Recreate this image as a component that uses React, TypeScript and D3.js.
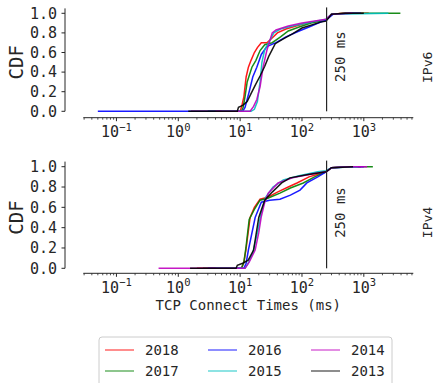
import React from "react";
import * as d3 from "d3";

// legend / series order
const years = ["2018", "2017", "2016", "2015", "2014", "2013"];
const colors = ["#ff0000", "#008000", "#0000ff", "#00bfbf", "#bf00bf", "#000000"];

// IPv6 CDFs: [connect time ms, cdf]
const v6_2018 = [[1.6, 0], [10, 0], [10.6, 0.05], [11.5, 0.15], [12.5, 0.35], [13.6, 0.45], [15, 0.52], [17, 0.6], [19, 0.65], [22, 0.7], [27, 0.7], [32, 0.74], [40, 0.8], [55, 0.84], [80, 0.87], [120, 0.9], [180, 0.92], [245, 0.93], [270, 0.96], [310, 0.99], [450, 1], [1200, 1]];
const v6_2017 = [[3, 0], [10.5, 0], [11.2, 0.04], [12, 0.15], [13, 0.3], [15.5, 0.45], [18, 0.52], [21, 0.62], [25, 0.68], [33, 0.7], [45, 0.76], [60, 0.82], [90, 0.86], [140, 0.9], [245, 0.93], [300, 0.99], [500, 1], [3900, 1]];
const v6_2016 = [[0.05, 0], [11, 0], [12, 0.04], [14, 0.2], [16, 0.35], [18.6, 0.45], [22, 0.58], [27, 0.66], [38, 0.7], [55, 0.76], [90, 0.82], [130, 0.86], [200, 0.91], [245, 0.93], [320, 0.99], [600, 1], [900, 1]];
const v6_2015 = [[5, 0], [15, 0], [17, 0.02], [19, 0.1], [21, 0.3], [22.5, 0.5], [25, 0.63], [29, 0.7], [35, 0.8], [45, 0.84], [70, 0.87], [120, 0.9], [245, 0.94], [300, 0.99], [2500, 1]];
const v6_2014 = [[4, 0], [14.5, 0], [16.5, 0.05], [18.6, 0.12], [21, 0.25], [23.5, 0.45], [27, 0.62], [33, 0.8], [38, 0.83], [60, 0.87], [100, 0.9], [245, 0.94], [300, 0.99], [650, 1]];
const v6_2013 = [[1.45, 0], [9, 0], [9.4, 0.04], [11, 0.06], [13, 0.1], [15, 0.18], [18, 0.28], [21, 0.36], [25, 0.46], [29, 0.56], [33, 0.63], [37, 0.69], [50, 0.74], [70, 0.79], [100, 0.85], [200, 0.91], [245, 0.92], [300, 0.99], [500, 1], [1000, 1]];

// IPv4 CDFs
const v4_2018 = [[2, 0], [10.5, 0], [11.5, 0.06], [12.4, 0.18], [14.5, 0.5], [17, 0.6], [21, 0.68], [28, 0.7], [40, 0.75], [60, 0.8], [83, 0.84], [130, 0.9], [245, 0.95], [300, 0.99], [500, 1], [900, 1]];
const v4_2017 = [[2.5, 0], [10.5, 0], [11.5, 0.06], [12.4, 0.2], [14, 0.48], [17, 0.58], [21, 0.67], [28, 0.69], [44, 0.74], [65, 0.79], [105, 0.84], [160, 0.9], [245, 0.95], [300, 0.99], [600, 1], [1400, 1]];
const v4_2016 = [[3, 0], [11.5, 0], [12.5, 0.05], [13.6, 0.18], [17.5, 0.5], [22, 0.65], [30, 0.67], [44, 0.68], [65, 0.72], [93, 0.77], [120, 0.84], [180, 0.9], [245, 0.95], [300, 0.99], [700, 1], [1000, 1]];
const v4_2015 = [[4, 0], [12, 0], [13.5, 0.05], [16, 0.15], [19, 0.35], [22, 0.55], [26, 0.7], [34, 0.8], [50, 0.87], [90, 0.91], [180, 0.95], [245, 0.96], [300, 0.99], [800, 1]];
const v4_2014 = [[0.48, 0], [12, 0], [14, 0.06], [17.5, 0.18], [20, 0.35], [22, 0.51], [25, 0.65], [28.5, 0.74], [41, 0.84], [70, 0.89], [150, 0.93], [245, 0.95], [300, 0.99], [600, 1], [1130, 1]];
const v4_2013 = [[1.55, 0], [8.6, 0], [9, 0.03], [11, 0.05], [13.5, 0.08], [16.5, 0.18], [20, 0.5], [25, 0.67], [33, 0.75], [47, 0.84], [64, 0.89], [120, 0.92], [245, 0.95], [300, 0.99], [670, 1]];

const v6Series = [v6_2018, v6_2017, v6_2016, v6_2015, v6_2014, v6_2013];
const v4Series = [v4_2018, v4_2017, v4_2016, v4_2015, v4_2014, v4_2013];

const yTicks = [0, 0.2, 0.4, 0.6, 0.8, 1.0];
const xMajor = [-1, 0, 1, 2, 3];
const cutoffMs = 250;

const W = 435;
const H = 383;
const ink = "#262626";
const mono = "'DejaVu Sans Mono', monospace";

const x = d3
  .scaleLog()
  .domain([Math.pow(10, -1.536), Math.pow(10, 3.8)])
  .range([83.3, 413.3]);

const panels = [
  { name: "IPv6", data: v6Series, y0: 111.3, y1: 13.3, axisY: 117.7 },
  { name: "IPv4", data: v4Series, y0: 268.3, y1: 166.7, axisY: 273.3 },
];

const minorTicks: number[] = [];
for (let e = -2; e <= 4; e++) {
  for (let k = 2; k <= 9; k++) {
    const v = k * Math.pow(10, e);
    if (v >= x.domain()[0] && v <= x.domain()[1]) minorTicks.push(v);
  }
}

const supMap: Record<string, string> = { "-1": "\u22121", "0": "0", "1": "1", "2": "2", "3": "3" };

function Panel({ p }: { p: (typeof panels)[number] }) {
  const y = d3.scaleLinear().domain([0, 1]).range([p.y0, p.y1]);
  const line = d3
    .line<number[]>()
    .x((d) => x(d[0]))
    .y((d) => y(d[1]));
  const xr = x.range();
  const midY = (p.y0 + p.y1) / 2;
  return (
    <g>
      {/* y spine + ticks */}
      <line x1={65} x2={65} y1={y(1.05)} y2={y(0)} stroke={ink} strokeWidth={1} />
      {yTicks.map((t) => (
        <g key={t}>
          <line x1={61.5} x2={65} y1={y(t)} y2={y(t)} stroke={ink} strokeWidth={1} />
          <text x={57} y={y(t)} dy="0.35em" textAnchor="end" fontSize={15} fill={ink} fontFamily={mono}>
            {t.toFixed(1)}
          </text>
        </g>
      ))}
      <text
        transform={`translate(22.5,${midY}) rotate(-90)`}
        textAnchor="middle"
        fontSize={19}
        fill={ink}
        fontFamily={mono}
      >
        CDF
      </text>

      {/* x spine + ticks */}
      <line x1={xr[0]} x2={xr[1]} y1={p.axisY} y2={p.axisY} stroke={ink} strokeWidth={1} />
      {minorTicks.map((t) => (
        <line key={t} x1={x(t)} x2={x(t)} y1={p.axisY} y2={p.axisY + 2} stroke={ink} strokeWidth={0.8} />
      ))}
      {xMajor.map((e) => (
        <g key={e}>
          <line
            x1={x(Math.pow(10, e))}
            x2={x(Math.pow(10, e))}
            y1={p.axisY}
            y2={p.axisY + 3.5}
            stroke={ink}
            strokeWidth={1}
          />
          <text x={x(Math.pow(10, e))} y={p.axisY + 19.5} textAnchor="middle" fontSize={15} fill={ink} fontFamily={mono}>
            10
            <tspan fontSize={10.5} dy={-6.5}>
              {supMap[String(e)]}
            </tspan>
          </text>
        </g>
      ))}

      {/* CDF lines */}
      {p.data.map((s, i) => (
        <path key={years[i]} d={line(s) || ""} fill="none" stroke={colors[i]} strokeWidth={1.5} strokeOpacity={0.9} />
      ))}

      {/* 250 ms marker */}
      <line x1={x(cutoffMs)} x2={x(cutoffMs)} y1={y(0)} y2={y(1.06)} stroke={ink} strokeWidth={1.2} />
      <text
        transform={`translate(${x(cutoffMs) + 18.5},${y(0.3)}) rotate(-90)`}
        fontSize={14}
        fill={ink}
        fontFamily={mono}
      >
        250 ms
      </text>
      <text
        transform={`translate(431.5,${midY + 5}) rotate(-90)`}
        textAnchor="middle"
        fontSize={13}
        fill={ink}
        fontFamily={mono}
      >
        {p.name}
      </text>
    </g>
  );
}

export default function App() {
  const legendCols = [105, 208, 311];
  const legendRows = [350, 371];
  return (
    <svg width={W} height={H} style={{ position: "absolute", left: 0, top: 0, background: "#fff" }}>
      {panels.map((p) => (
        <Panel key={p.name} p={p} />
      ))}
      <text x={248.3} y={310} textAnchor="middle" fontSize={14} fill={ink} fontFamily={mono}>
        TCP Connect Times (ms)
      </text>

      {/* legend, 3 columns filled column-wise */}
      <rect x={99} y={337} width={293} height={52} rx={3} fill="#fff" stroke="#cccccc" strokeWidth={1} />
      {years.map((yr, i) => {
        const col = Math.floor(i / 2);
        const row = i % 2;
        const lx = legendCols[col];
        const ly = legendRows[row];
        return (
          <g key={yr}>
            <line x1={lx} x2={lx + 29} y1={ly} y2={ly} stroke={colors[i]} strokeWidth={1.5} strokeOpacity={0.6} />
            <text x={lx + 40} y={ly + 5} fontSize={14} fill={ink} fontFamily={mono}>
              {yr}
            </text>
          </g>
        );
      })}
    </svg>
  );
}
